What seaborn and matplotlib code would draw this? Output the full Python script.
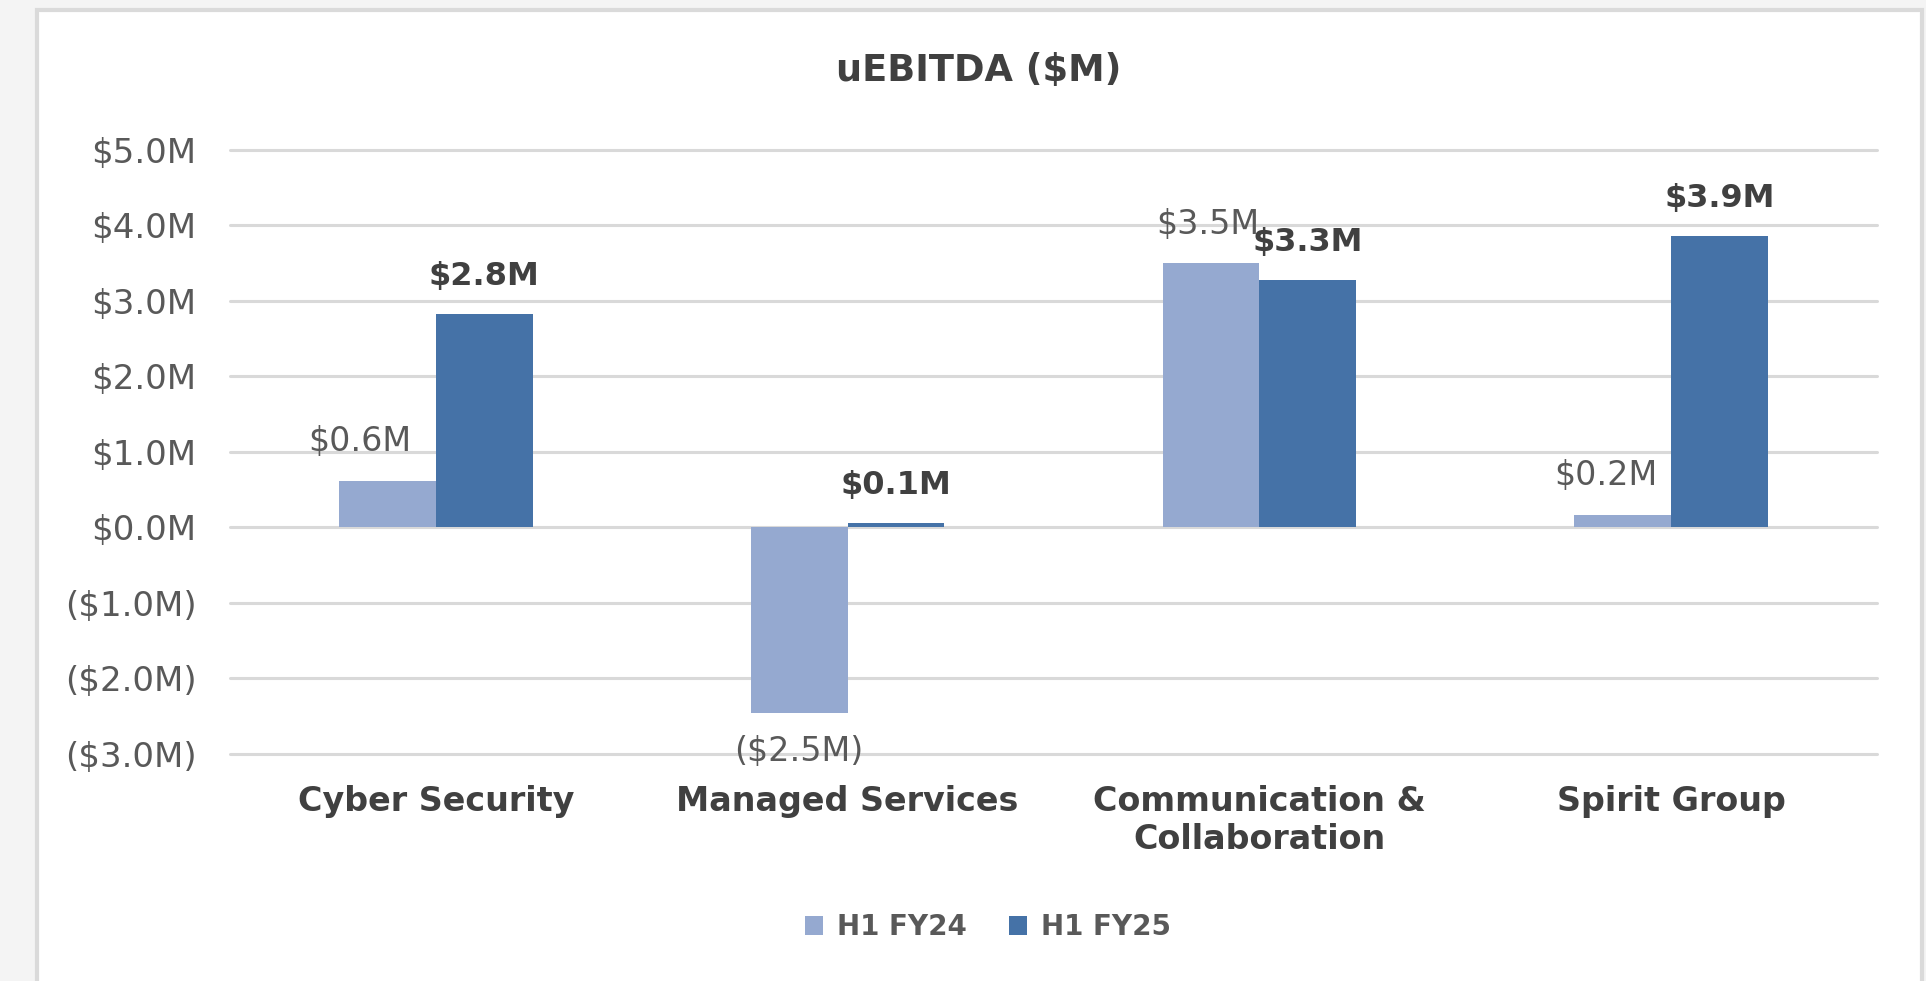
import numpy as np
import pandas as pd
import seaborn as sns
import matplotlib.pyplot as plt
from matplotlib.patches import Rectangle
from matplotlib.ticker import FuncFormatter

# data ($M)
segments = ["Cyber Security", "Managed Services", "Communication &\nCollaboration", "Spirit Group"]
periods = ["H1 FY24", "H1 FY25"]
fy24 = [0.62, -2.46, 3.50, 0.17]
fy25 = [2.83, 0.06, 3.28, 3.86]
y_ticks = [5, 4, 3, 2, 1, 0, -1, -2, -3]


def money(v):
    if v < 0:
        return f"(${abs(v):.1f}M)"
    return f"${v:.1f}M"


df = pd.DataFrame({
    "segment": segments * 2,
    "period": [periods[0]] * len(segments) + [periods[1]] * len(segments),
    "value": fy24 + fy25,
})

sns.set_theme(style="white")
plt.rcParams["font.family"] = ["DejaVu Sans"]

fig = plt.figure(figsize=(19.26, 9.81), dpi=100, facecolor="#F4F4F4")
# white card behind the chart
fig.patches.append(Rectangle((0.019, -0.05), 0.979, 1.04, transform=fig.transFigure,
                             facecolor="white", edgecolor="#DADADA", lw=3, zorder=-10))
ax = fig.add_axes([0.1194, 0.2314, 0.8552, 0.6157])
ax.set_facecolor("none")

sns.barplot(data=df, x="segment", y="value", hue="period",
            palette=["#95A9D0", "#4572A7"], width=0.47, gap=0,
            saturation=1, linewidth=0, ax=ax)

ax.set_ylim(-3, 5)
ax.set_xlim(-0.5, 3.5)
ax.set_yticks(y_ticks)
ax.yaxis.set_major_formatter(FuncFormatter(lambda v, p: money(v)))
ax.set_axisbelow(True)
ax.yaxis.grid(True, color="#D9D9D9", lw=2.2)
ax.xaxis.grid(False)
for gl in ax.get_ygridlines():
    gl.set_clip_on(False)
sns.despine(ax=ax, left=True, bottom=True)
ax.tick_params(axis="y", length=0, pad=24, labelsize=24.5, labelcolor="#595959")
ax.tick_params(axis="x", length=0, pad=22, labelsize=24, labelcolor="#404040")
for t in ax.get_xticklabels():
    t.set_fontweight("bold")
ax.set_xlabel("")
ax.set_ylabel("")

lbl24 = ax.bar_label(ax.containers[0], labels=[money(v) for v in fy24], padding=16,
                     fontsize=24, color="#595959")
# small nudges left where the label would touch the taller neighbour bar
for t, dx in zip(lbl24, [-20, 0, -2, -12]):
    x0, y0 = t.xyann
    t.xyann = (x0 + dx, y0)
ax.bar_label(ax.containers[1], labels=[money(v) for v in fy25], padding=16,
             fontsize=23, color="#404040", fontweight="bold")

fig.text(0.508, 0.928, "uEBITDA ($M)", ha="center", va="center",
         fontsize=26.5, fontweight="bold", color="#404040")

handles, labels = ax.get_legend_handles_labels()
ax.legend(handles, labels, loc="center", bbox_to_anchor=(0.513, 0.055),
          bbox_transform=fig.transFigure, ncol=2, frameon=False,
          prop={"weight": "bold", "size": 20}, labelcolor="#595959",
          handlelength=0.65, handleheight=0.65, handletextpad=0.5, columnspacing=1.5)

fig.savefig("out.png", dpi=100, facecolor=fig.get_facecolor())
